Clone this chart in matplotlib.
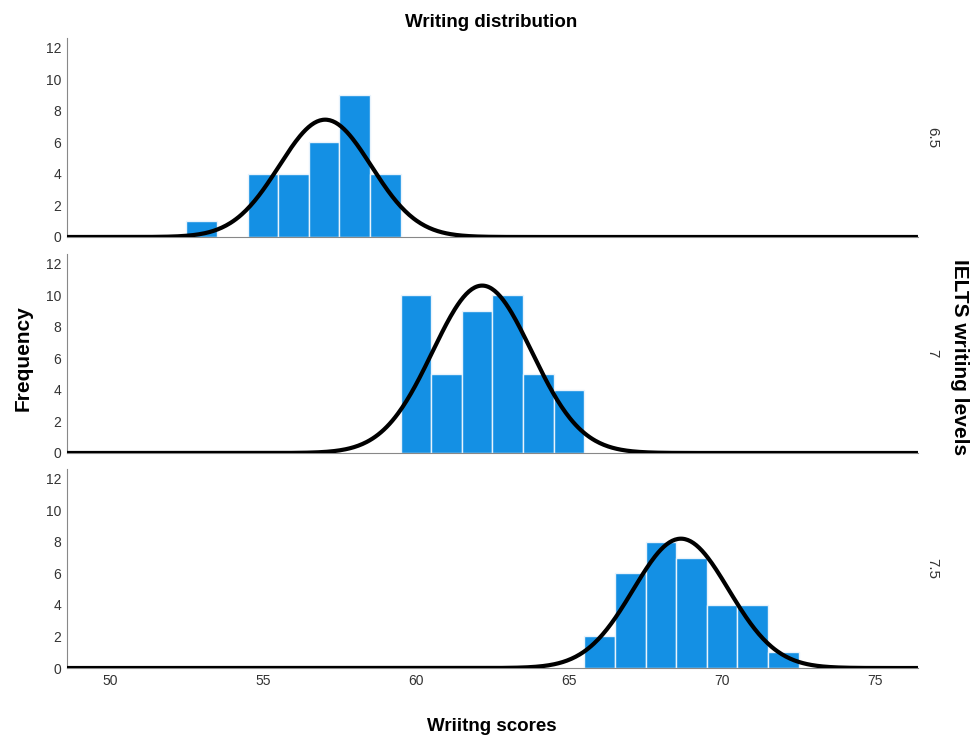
"""
Writing score histograms by IELTS writing level, with fitted normal curves.
"""

import matplotlib.pyplot as plt
import numpy as np

plt.rcParams['font.family'] = ['Liberation Sans', 'DejaVu Sans']

# Data (bin centres, width 1)
levels = ['6.5', '7', '7.5']
level_65_scores = [53, 55, 56, 57, 58, 59]
level_65_counts = [1, 4, 4, 6, 9, 4]
level_7_scores = [60, 61, 62, 63, 64, 65]
level_7_counts = [10, 5, 9, 10, 5, 4]
level_75_scores = [66, 67, 68, 69, 70, 71, 72]
level_75_counts = [2, 6, 8, 7, 4, 4, 1]

x_ticks = [50, 55, 60, 65, 70, 75]
y_ticks = [0, 2, 4, 6, 8, 10, 12]

BAR_COLOR = '#1490e4'
XLIM = (48.6, 76.4)
YLIM = (0, 12.6)

groups = [
    (level_65_scores, level_65_counts),
    (level_7_scores, level_7_counts),
    (level_75_scores, level_75_counts),
]

fig = plt.figure(figsize=(9.75, 7.42), dpi=100)

left, width = 0.0687, 0.8728
bottoms = [0.6806, 0.3895, 0.0997]
height = 0.268

xs = np.linspace(XLIM[0], XLIM[1], 600)

for i, ((scores, counts), level, bottom) in enumerate(zip(groups, levels, bottoms)):
    ax = fig.add_axes([left, bottom, width, height])
    scores = np.array(scores, dtype=float)
    counts = np.array(counts, dtype=float)

    ax.bar(scores, counts, width=1.0, color=BAR_COLOR,
           edgecolor='#e8f3fc', linewidth=1.0, zorder=2)

    # normal curve fitted to the binned scores
    n = counts.sum()
    mean = (scores * counts).sum() / n
    sd = np.sqrt((counts * (scores - mean) ** 2).sum() / (n - 1))
    pdf = n / (sd * np.sqrt(2 * np.pi)) * np.exp(-0.5 * ((xs - mean) / sd) ** 2)
    ax.plot(xs, pdf, color='black', linewidth=3.0, zorder=3,
            solid_capstyle='butt')

    ax.set_xlim(XLIM)
    ax.set_ylim(YLIM)
    ax.set_yticks(y_ticks)
    ax.set_xticks(x_ticks)
    ax.tick_params(length=0, labelsize=10, colors='#333333', pad=4)
    if i < 2:
        ax.set_xticklabels([])

    for side in ['top', 'right']:
        ax.spines[side].set_visible(False)
    ax.spines['left'].set_color('#888888')
    ax.spines['left'].set_linewidth(0.8)
    ax.spines['bottom'].set_color('#888888')
    ax.spines['bottom'].set_linewidth(0.8)

    ax.text(1.0 + 14 / 851, 0.5, level, transform=ax.transAxes,
            rotation=-90, ha='center', va='center', fontsize=11,
            color='#333333')

fig.text(0.504, 0.970, 'Writing distribution', ha='center', va='center',
         fontsize=13.5, fontweight='bold')
fig.text(0.024, 0.517, 'Frequency', ha='center', va='center',
         rotation=90, fontsize=15, fontweight='bold')
fig.text(0.504, 0.021, 'Wriitng scores', ha='center', va='center',
         fontsize=13.5, fontweight='bold')
fig.text(0.984, 0.519, 'IELTS writing levels', ha='center', va='center',
         rotation=-90, fontsize=15, fontweight='bold')

fig.savefig('out.png', dpi=100)
